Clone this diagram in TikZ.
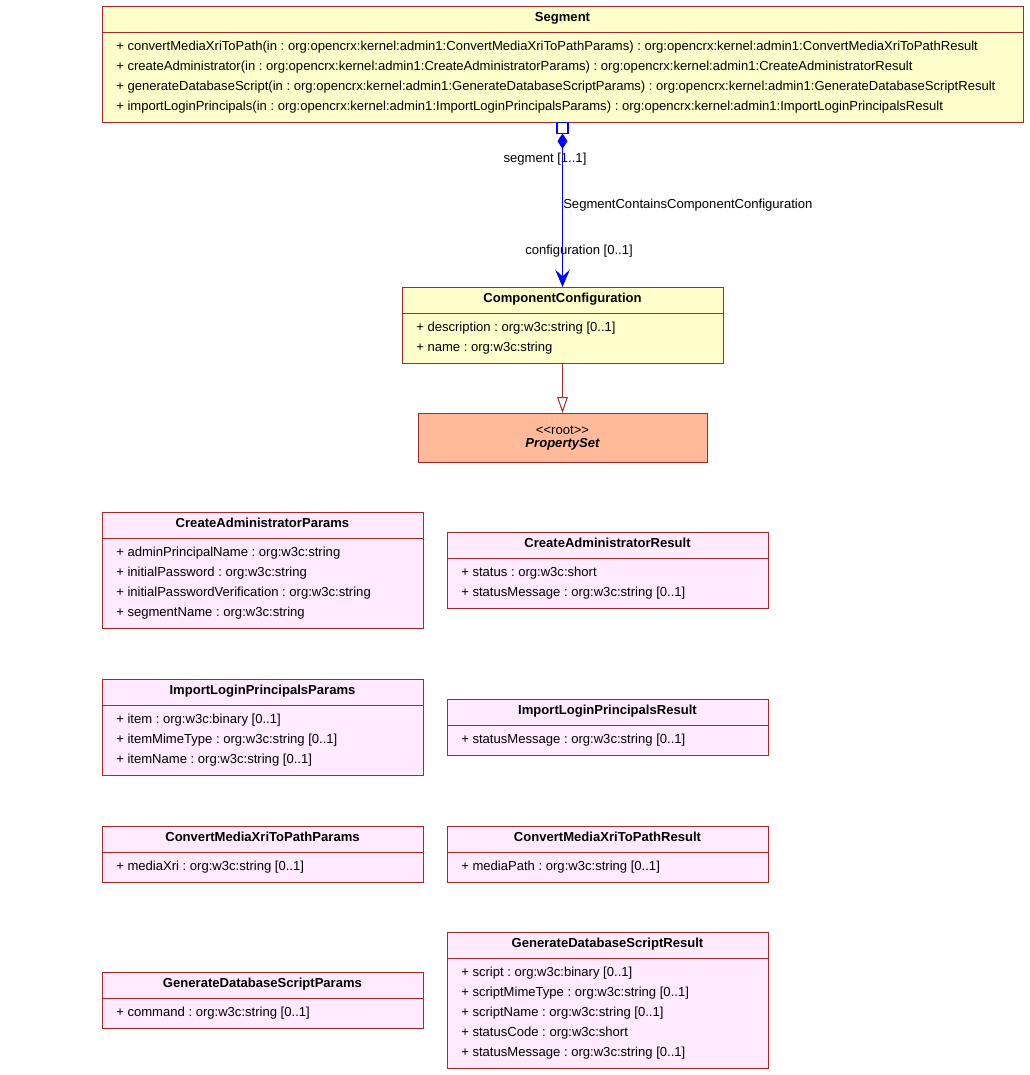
\documentclass[tikz,border=0pt]{standalone}
\usepackage{fontspec}
\setmainfont{Liberation Sans}
\usetikzlibrary{fit,arrows.meta}
\definecolor{umlborder}{HTML}{A52A2A}
\definecolor{yellowfill}{HTML}{FFFFCC}
\definecolor{pinkfill}{HTML}{FFEAFF}
\definecolor{salmonfill}{HTML}{FFBB99}
\definecolor{assocblue}{HTML}{0000FF}
\frenchspacing
\tikzset{
  classframe/.style={draw=umlborder, line width=0.75pt, inner sep=0pt, outer sep=0pt, rectangle},
  classline/.style={draw=umlborder, line width=0.75pt},
  titletext/.style={font=\fontsize{9.8}{12}\selectfont\bfseries, inner sep=0pt},
  rowtext/.style={font=\fontsize{9.8}{12}\selectfont, inner sep=0pt},
  assoc/.style={draw=assocblue, line width=0.9pt},
  gen/.style={draw=umlborder, line width=0.75pt},
}
\newcommand{\umlclassbox}[8]{%
  \pgfmathsetmacro{\cbB}{#3+36+20*#5}%
  \node[classframe, fill=#6, fit={(#2,#3) (#4,\cbB)}] (#1) {};
  \draw[classline] (#2,#3+26) -- (#4,#3+26);
  \node[titletext, anchor=base] (#1-title) at ({(#2+#4)/2}, #3+15) {#7};
  \foreach \r [count=\i] in {#8} {
    \node[rowtext, anchor=base west] (#1-row\i) at (#2+14, #3+24+20*\i) {\r};
  }
}
\begin{document}
\begin{tikzpicture}[x=0.75pt, y=-0.75pt]
\useasboundingbox (0,0) rectangle (1029,1075);

\umlclassbox{seg}{102}{6}{1023}{4}{yellowfill}{Segment}{%
  {+ convertMediaXriToPath(in : org:opencrx:kernel:admin1:ConvertMediaXriToPathParams) : org:opencrx:kernel:admin1:ConvertMediaXriToPathResult},
  {+ createAdministrator(in : org:opencrx:kernel:admin1:CreateAdministratorParams) : org:opencrx:kernel:admin1:CreateAdministratorResult},
  {+ generateDatabaseScript(in : org:opencrx:kernel:admin1:GenerateDatabaseScriptParams) : org:opencrx:kernel:admin1:GenerateDatabaseScriptResult},
  {+ importLoginPrincipals(in : org:opencrx:kernel:admin1:ImportLoginPrincipalsParams) : org:opencrx:kernel:admin1:ImportLoginPrincipalsResult}}

\umlclassbox{cc}{402}{287}{723}{2}{yellowfill}{ComponentConfiguration}{%
  {+ description : org:w3c:string [0..1]},
  {+ name : org:w3c:string}}

\node[classframe, fill=salmonfill, fit={(418,413) (707,462)}] (ps) {};
\node[rowtext, anchor=base] (ps-stereo) at (562.5,434) {<\kern0pt<root>\kern0pt>};
\node[titletext, font=\fontsize{9.8}{12}\selectfont\bfseries\itshape, anchor=base] (ps-title) at (562.5,447) {PropertySet};

\umlclassbox{cap}{102}{512}{423}{4}{pinkfill}{CreateAdministratorParams}{%
  {+ adminPrincipalName : org:w3c:string},
  {+ initialPassword : org:w3c:string},
  {+ initialPasswordVerification : org:w3c:string},
  {+ segmentName : org:w3c:string}}

\umlclassbox{car}{447}{532}{768}{2}{pinkfill}{CreateAdministratorResult}{%
  {+ status : org:w3c:short},
  {+ statusMessage : org:w3c:string [0..1]}}

\umlclassbox{ilp}{102}{679}{423}{3}{pinkfill}{ImportLoginPrincipalsParams}{%
  {+ item : org:w3c:binary [0..1]},
  {+ itemMimeType : org:w3c:string [0..1]},
  {+ itemName : org:w3c:string [0..1]}}

\umlclassbox{ilr}{447}{699}{768}{1}{pinkfill}{ImportLoginPrincipalsResult}{%
  {+ statusMessage : org:w3c:string [0..1]}}

\umlclassbox{cmp}{102}{826}{423}{1}{pinkfill}{ConvertMediaXriToPathParams}{%
  {+ mediaXri : org:w3c:string [0..1]}}

\umlclassbox{cmr}{447}{826}{768}{1}{pinkfill}{ConvertMediaXriToPathResult}{%
  {+ mediaPath : org:w3c:string [0..1]}}

\umlclassbox{gdp}{102}{972}{423}{1}{pinkfill}{GenerateDatabaseScriptParams}{%
  {+ command : org:w3c:string [0..1]}}

\umlclassbox{gdr}{447}{932}{768}{5}{pinkfill}{GenerateDatabaseScriptResult}{%
  {+ script : org:w3c:binary [0..1]},
  {+ scriptMimeType : org:w3c:string [0..1]},
  {+ scriptName : org:w3c:string [0..1]},
  {+ statusCode : org:w3c:short},
  {+ statusMessage : org:w3c:string [0..1]}}

% association
\node[draw=assocblue, fill=white, line width=0.9pt, minimum size=8.25pt, inner sep=0pt, outer sep=0pt] (sq) at (562.5,128) {};
\draw[assoc, {Diamond[length=11.5pt, width=7.5pt, fill=assocblue]}-{Stealth[length=13pt, width=11pt, inset=5pt, fill=assocblue]}] (sq.south) -- (cc.north);
\node[rowtext, anchor=base] (lseg) at (545,162) {segment [1..1]};
\node[rowtext, anchor=base west] (lassoc) at (563,208) {SegmentContainsComponentConfiguration};
\node[rowtext, anchor=base] (lconf) at (579,254) {configuration [0..1]};

% generalization
\draw[gen, -{Triangle[open, length=12pt, width=8pt, fill=white]}] (cc.south) -- (ps.north);
\end{tikzpicture}
\end{document}
